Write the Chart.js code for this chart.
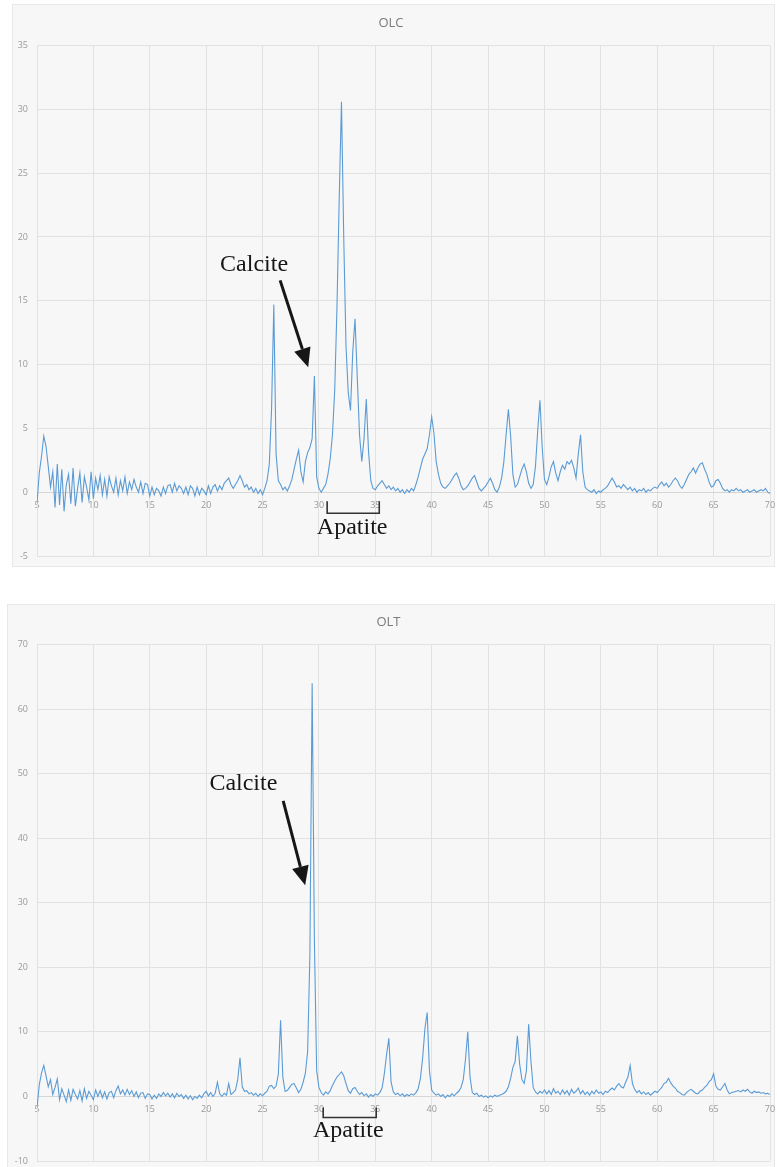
<!DOCTYPE html>
<html>
<head>
<meta charset="utf-8">
<title>OLC / OLT</title>
<script src="https://cdn.jsdelivr.net/npm/chart.js@4.4.1/dist/chart.umd.min.js"></script>
<style>
body { margin: 0; background: #fff; width: 777px; height: 1167px; position: relative; overflow: hidden; }
.panel { position: absolute; background: #f7f7f7; box-shadow: inset 0 0 0 1px #e8e8e8; }
.panel canvas { position: absolute; left: 0; top: 0; }
#olcPanel { left: 12px; top: 4px; width: 763px; height: 563px; }
#oltPanel { left: 7px; top: 604px; width: 768px; height: 566px; }
</style>
</head>
<body>
<div class="panel" id="olcPanel"><canvas id="olcChart" width="763" height="563"></canvas></div>
<div class="panel" id="oltPanel"><canvas id="oltChart" width="768" height="563"></canvas></div>
<script>
// 2-theta steps (degrees), shared by both patterns
const twoTheta = [
  5,5.2,5.4,5.6,5.8,6,6.2,6.4,6.6,6.8,
  7,7.2,7.4,7.6,7.8,8,8.2,8.4,8.6,8.8,
  9,9.2,9.4,9.6,9.8,10,10.2,10.4,10.6,10.8,
  11,11.2,11.4,11.6,11.8,12,12.2,12.4,12.6,12.8,
  13,13.2,13.4,13.6,13.8,14,14.2,14.4,14.6,14.8,
  15,15.2,15.4,15.6,15.8,16,16.2,16.4,16.6,16.8,
  17,17.2,17.4,17.6,17.8,18,18.2,18.4,18.6,18.8,
  19,19.2,19.4,19.6,19.8,20,20.2,20.4,20.6,20.8,
  21,21.2,21.4,21.6,21.8,22,22.2,22.4,22.6,22.8,
  23,23.2,23.4,23.6,23.8,24,24.2,24.4,24.6,24.8,
  25,25.2,25.4,25.6,25.8,26,26.2,26.4,26.6,26.8,
  27,27.2,27.4,27.6,27.8,28,28.2,28.4,28.6,28.8,
  29,29.2,29.4,29.6,29.8,30,30.2,30.4,30.6,30.8,
  31,31.2,31.4,31.6,31.8,32,32.2,32.4,32.6,32.8,
  33,33.2,33.4,33.6,33.8,34,34.2,34.4,34.6,34.8,
  35,35.2,35.4,35.6,35.8,36,36.2,36.4,36.6,36.8,
  37,37.2,37.4,37.6,37.8,38,38.2,38.4,38.6,38.8,
  39,39.2,39.4,39.6,39.8,40,40.2,40.4,40.6,40.8,
  41,41.2,41.4,41.6,41.8,42,42.2,42.4,42.6,42.8,
  43,43.2,43.4,43.6,43.8,44,44.2,44.4,44.6,44.8,
  45,45.2,45.4,45.6,45.8,46,46.2,46.4,46.6,46.8,
  47,47.2,47.4,47.6,47.8,48,48.2,48.4,48.6,48.8,
  49,49.2,49.4,49.6,49.8,50,50.2,50.4,50.6,50.8,
  51,51.2,51.4,51.6,51.8,52,52.2,52.4,52.6,52.8,
  53,53.2,53.4,53.6,53.8,54,54.2,54.4,54.6,54.8,
  55,55.2,55.4,55.6,55.8,56,56.2,56.4,56.6,56.8,
  57,57.2,57.4,57.6,57.8,58,58.2,58.4,58.6,58.8,
  59,59.2,59.4,59.6,59.8,60,60.2,60.4,60.6,60.8,
  61,61.2,61.4,61.6,61.8,62,62.2,62.4,62.6,62.8,
  63,63.2,63.4,63.6,63.8,64,64.2,64.4,64.6,64.8,
  65,65.2,65.4,65.6,65.8,66,66.2,66.4,66.6,66.8,
  67,67.2,67.4,67.6,67.8,68,68.2,68.4,68.6,68.8,
  69,69.2,69.4,69.6,69.8,70
];

const olcIntensity = [
  -0.9,1.5,2.8,4.4,3.6,2.0,0.4,1.6,-1.2,2.2,
  -1.0,1.8,-1.5,0.6,1.4,-0.9,1.9,-1.1,0.3,1.5,
  -0.8,1.2,0.4,-0.6,1.6,-0.5,1.1,0.2,1.3,-0.2,
  1.0,-0.3,1.2,0.5,0.0,1.1,-0.2,0.9,0.1,1.2,
  -0.1,0.8,0.2,1.0,0.4,0.0,0.8,-0.1,0.7,0.6,
  -0.3,0.4,-0.2,0.3,0.1,-0.3,0.4,-0.1,0.5,0.6,
  0.0,0.7,0.1,0.5,0.3,-0.1,0.4,-0.2,0.5,0.3,
  -0.3,0.4,-0.2,0.3,0.1,-0.2,0.5,-0.1,0.4,0.6,
  0.1,0.5,0.2,0.7,0.9,1.1,0.6,0.3,0.6,0.9,
  1.3,0.9,0.4,0.6,0.2,0.4,0.0,0.3,-0.1,0.2,
  -0.2,0.3,0.9,2.2,6.5,14.7,3.0,0.9,0.6,0.2,
  0.4,0.1,0.5,1.0,1.8,2.6,3.3,1.6,0.8,2.4,
  3.1,3.5,4.2,9.1,1.2,0.3,0.0,0.3,0.6,1.4,
  2.6,4.5,8.0,14.5,23.0,30.6,20.0,11.5,7.8,6.4,
  11.0,13.6,9.0,4.5,2.4,4.2,7.3,3.2,0.9,0.3,
  0.2,0.5,0.7,0.9,0.6,0.3,0.5,0.2,0.4,0.1,
  0.3,0.0,0.2,-0.1,0.2,0.0,0.3,0.1,0.6,1.2,
  1.9,2.6,3.0,3.4,4.5,5.9,4.6,2.4,1.4,0.7,
  0.4,0.3,0.5,0.7,1.0,1.3,1.5,1.1,0.5,0.2,
  0.3,0.5,0.8,1.1,1.3,0.8,0.3,0.1,0.3,0.5,
  0.8,1.1,0.7,0.2,0.0,0.4,1.1,2.4,4.5,6.5,
  4.4,1.4,0.4,0.6,1.2,1.8,2.2,1.6,0.7,0.3,
  0.6,2.0,4.8,7.2,3.5,1.0,0.6,1.2,2.0,2.4,
  1.5,0.9,1.6,2.1,1.8,2.4,2.2,2.5,1.9,1.1,
  3.0,4.5,1.6,0.4,0.2,0.1,0.0,0.2,-0.1,0.1,
  0.0,0.2,0.3,0.5,0.8,1.1,0.8,0.4,0.5,0.3,
  0.6,0.4,0.2,0.4,0.1,0.3,0.0,0.2,0.1,0.3,
  0.0,0.2,0.1,0.3,0.4,0.3,0.6,0.8,0.5,0.7,
  0.4,0.6,0.9,1.1,0.9,0.5,0.3,0.6,1.0,1.4,
  1.6,1.9,1.5,1.9,2.2,2.3,1.8,1.4,0.8,0.4,
  0.5,0.9,1.0,0.7,0.3,0.1,0.2,0.0,0.2,0.1,
  0.3,0.1,0.2,0.0,0.1,0.2,0.0,0.1,0.2,0.0,
  0.1,0.2,0.1,0.3,0.0,-0.1
];

const oltIntensity = [
  -1.8,1.8,3.6,4.8,3.2,1.5,2.6,0.3,1.4,2.7,
  -0.5,1.2,0.2,-0.8,1.0,-0.6,1.1,0.3,-0.4,0.9,
  -0.7,1.2,-0.3,0.8,0.2,-0.5,1.0,0.0,0.9,-0.2,
  0.7,-0.4,0.6,0.8,-0.2,0.9,1.6,0.4,1.0,0.2,
  1.1,0.3,0.9,0.0,0.7,-0.2,0.5,0.6,-0.3,0.4,
  0.3,-0.4,0.2,-0.3,0.4,0.0,0.6,0.1,0.5,-0.1,
  0.4,-0.2,0.5,0.0,0.3,-0.3,0.2,-0.4,0.1,-0.5,
  0.0,-0.3,0.2,-0.2,0.4,0.8,0.1,0.6,0.0,0.5,
  2.2,0.4,0.0,0.5,0.2,2.0,0.3,0.6,1.0,2.6,
  6.0,1.5,0.8,0.9,0.4,0.6,0.2,0.5,0.0,0.4,
  0.1,0.5,0.8,1.6,1.7,1.2,1.6,3.4,11.8,3.0,
  0.8,0.9,1.4,1.9,2.0,1.3,0.6,1.1,2.2,3.6,
  7.0,22.0,64.0,24.0,4.0,1.4,0.6,0.2,0.7,0.4,
  0.9,1.7,2.4,3.0,3.4,3.8,3.2,2.0,0.9,0.5,
  1.2,1.4,0.8,0.3,0.6,0.1,0.4,-0.1,0.3,0.0,
  0.4,0.2,0.6,1.3,3.5,6.5,9.0,2.2,0.7,0.3,
  0.5,0.1,0.4,0.0,0.3,0.1,0.4,0.2,0.6,1.2,
  2.8,6.0,10.5,13.0,4.0,1.0,0.5,0.2,0.4,0.0,
  0.3,-0.2,0.2,0.0,0.4,0.1,0.5,0.8,1.4,2.6,
  5.8,10.0,3.0,0.6,0.3,0.5,0.0,0.2,-0.1,0.1,
  -0.2,0.1,-0.1,0.2,0.0,0.2,0.3,0.5,0.8,1.5,
  2.8,4.5,5.4,9.4,5.0,2.6,2.0,4.0,11.2,5.5,
  1.4,0.7,0.4,0.8,0.5,1.0,0.4,0.9,0.3,1.2,
  0.5,0.8,0.3,1.0,0.4,0.9,0.2,1.1,0.5,0.8,
  1.3,0.4,0.9,0.3,0.7,0.2,0.8,0.4,1.0,0.5,
  0.7,0.3,0.8,0.6,1.0,1.3,1.0,1.6,2.0,1.5,
  1.3,2.2,3.0,4.8,2.0,1.1,0.6,0.9,0.4,0.7,
  0.3,0.6,0.2,0.5,0.8,0.6,1.0,1.4,2.0,2.2,
  2.8,2.1,1.6,1.3,0.8,0.6,0.3,0.2,0.6,0.9,
  1.1,0.8,0.5,0.4,0.8,1.0,1.4,1.7,2.3,2.6,
  3.5,1.6,1.1,1.0,1.5,2.0,1.0,0.4,0.6,0.7,
  0.8,0.9,0.7,1.0,0.8,1.1,0.7,0.5,0.8,0.6,
  0.7,0.5,0.6,0.4,0.5,0.3
];

const xTicks = [5, 70, 5];          // min, max, step
const olcYTicks = [-5, 35, 5];
const oltYTicks = [-10, 70, 10];

// annotation anchors in data units: text [x, y], arrow [x1, y1, x2, y2], bracket [from, to, low, high]
const olcNotes = {
  calcite: [24.25, 17.3],
  arrow: [26.56, 16.6, 29.05, 9.8],
  bracket: [30.73, 35.35, -1.65, -0.7],
  apatite: [32.95, -3.3]
};
const oltNotes = {
  calcite: [23.3, 47.4],
  arrow: [26.83, 45.8, 28.78, 32.7],
  bracket: [30.38, 35.08, -3.25, -1.7],
  apatite: [32.6, -6.35]
};

Chart.defaults.font.family = '"Open Sans", "Noto Sans", sans-serif';

const notesPlugin = {
  id: 'notes',
  afterDatasetsDraw(chart, args, opts) {
    const ctx = chart.ctx;
    const px = v => chart.scales.x.getPixelForValue(v);
    const py = v => chart.scales.y.getPixelForValue(v);
    ctx.save();
    ctx.fillStyle = '#161616';
    ctx.strokeStyle = '#161616';
    ctx.font = '24px "Liberation Serif", "Times New Roman", serif';
    ctx.textAlign = 'center';
    ctx.textBaseline = 'alphabetic';
    ctx.fillText('Calcite', px(opts.calcite[0]), py(opts.calcite[1]));
    ctx.fillText('Apatite', px(opts.apatite[0]), py(opts.apatite[1]));

    const x1 = px(opts.arrow[0]), y1 = py(opts.arrow[1]);
    const x2 = px(opts.arrow[2]), y2 = py(opts.arrow[3]);
    const a = Math.atan2(y2 - y1, x2 - x1);
    const head = 19, half = 8.5;
    const bx = x2 - head * Math.cos(a), by = y2 - head * Math.sin(a);
    ctx.lineWidth = 3;
    ctx.beginPath();
    ctx.moveTo(x1, y1);
    ctx.lineTo(bx, by);
    ctx.stroke();
    ctx.beginPath();
    ctx.moveTo(x2, y2);
    ctx.lineTo(bx + half * Math.sin(a), by - half * Math.cos(a));
    ctx.lineTo(bx - half * Math.sin(a), by + half * Math.cos(a));
    ctx.closePath();
    ctx.fill();

    const b = opts.bracket;
    ctx.lineWidth = 1.6;
    ctx.strokeStyle = '#333';
    ctx.beginPath();
    ctx.moveTo(px(b[0]), py(b[3]));
    ctx.lineTo(px(b[0]), py(b[2]));
    ctx.lineTo(px(b[1]), py(b[2]));
    ctx.lineTo(px(b[1]), py(b[3]));
    ctx.stroke();
    ctx.restore();
  }
};

function drawPattern(canvasId, title, intensity, yTicks, axisWidth, titlePad, padBottom, notes){
  const ctx = document.getElementById(canvasId).getContext('2d');
  return new Chart(ctx, {
    type: 'line',
    data: {
      datasets: [{
        data: twoTheta.map((t, i) => ({x: t, y: intensity[i]})),
        borderColor: '#5b9bd5',
        borderWidth: 1.1,
        pointRadius: 0,
        tension: 0,
        fill: false,
      }],
    },
    options: {
      responsive: false,
      animation: false,
      layout: { padding: { left: 0, right: 5, top: 0, bottom: padBottom } },
      plugins: {
        legend: { display: false },
        tooltip: { enabled: false },
        title: {
          display: true,
          text: title,
          color: '#7a7a7a',
          font: { size: 13, weight: 'normal' },
          padding: titlePad,
        },
        notes: notes,
      },
      scales: {
        x: {
          type: 'linear',
          position: { y: 0 },
          min: xTicks[0],
          max: xTicks[1],
          ticks: { stepSize: xTicks[2], color: '#9a9a9a', font: { size: 9 }, padding: 8, maxRotation: 0 },
          grid: { color: '#e2e2e2', drawTicks: false },
          border: { color: '#d6d6d6' },
          afterFit: (scale) => { scale.paddingLeft = 0; scale.paddingRight = 0; },
        },
        y: {
          min: yTicks[0],
          max: yTicks[1],
          ticks: { stepSize: yTicks[2], color: '#9a9a9a', font: { size: 9 }, padding: 9 },
          grid: { color: '#e2e2e2', drawTicks: false },
          border: { color: '#e2e2e2' },
          afterFit: (scale) => { scale.width = axisWidth; scale.paddingTop = 0; scale.paddingBottom = 0; },
        },
      },
    },
    plugins: [notesPlugin],
  });
}

drawPattern('olcChart', 'OLC', olcIntensity, olcYTicks, 25, { top: 11, bottom: 15 }, 11, olcNotes);
drawPattern('oltChart', 'OLT', oltIntensity, oltYTicks, 30, { top: 10, bottom: 15 }, 6, oltNotes);
</script>
</body>
</html>
